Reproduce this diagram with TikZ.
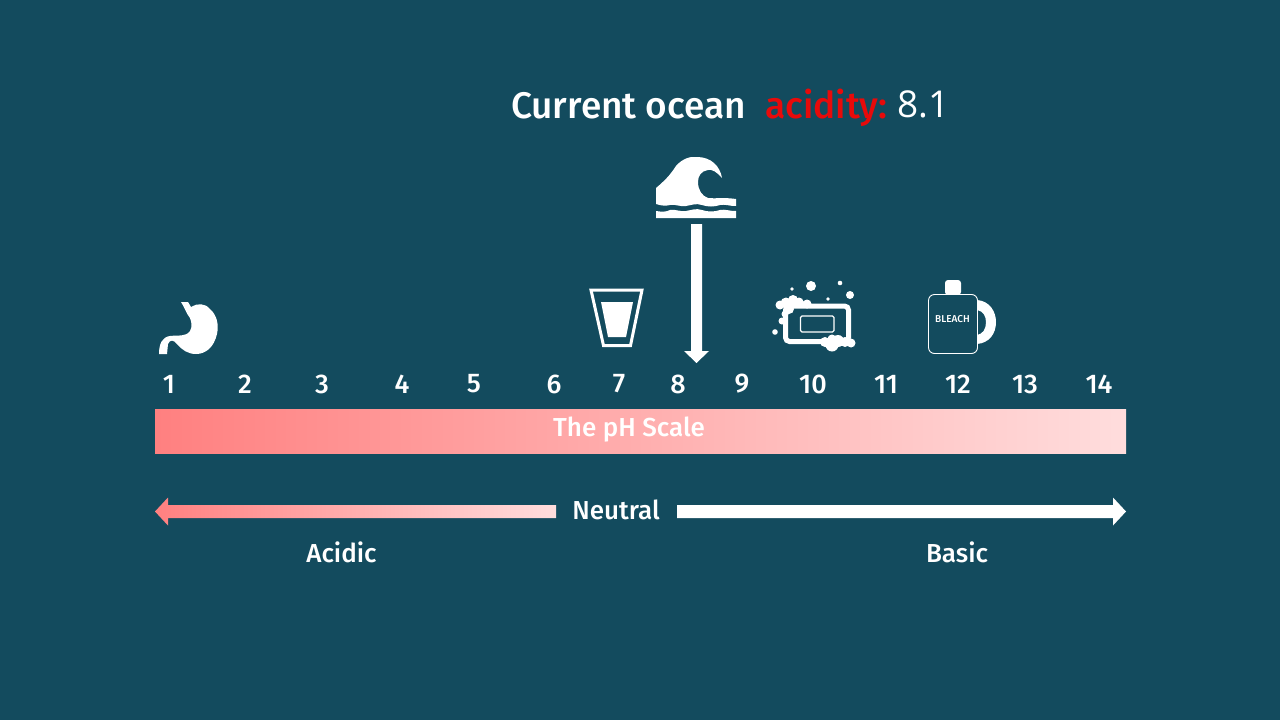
\documentclass[tikz,border=0pt]{standalone}
\usepackage{fontspec}
\setmainfont{Fira Sans Medium}
\newfontfamily\osans{Open Sans}
\definecolor{bgc}{HTML}{134B5E}
\definecolor{lo}{HTML}{FF8080}
\definecolor{hi}{HTML}{FFDDDD}
\definecolor{acid}{HTML}{E80A0A}
\tikzset{
  x=1pt,y=-1pt,
  lab/.style={text=white,inner sep=0pt,anchor=center},
  num/.style={lab,font=\fontsize{27}{27}\selectfont},
  word/.style={lab,font=\fontsize{26}{26}\selectfont},
  ink/.style={fill=white,draw=none},
  grad/.style={left color=lo,right color=hi,draw=none,shading angle=90},
}
\begin{document}
\begin{tikzpicture}
\useasboundingbox (0,0) rectangle (1280,720);
\fill[bgc] (0,0) rectangle (1280,720);
% title
\node[lab,anchor=base west,font=\fontsize{37}{37}\selectfont] (title) at (511,118) {Current ocean};
\node[lab,anchor=base west,text=acid,font=\fontsize{37}{37}\selectfont] (acidity) at (765,118) {acidity:};
\node[lab,anchor=base west,font=\osans\fontsize{37}{37}\selectfont] (val) at (897,117) {8.1};
% wave
\path[ink] (656,188) .. controls (668,178) and (672,172) .. (676,166)
  .. controls (682,159) and (690,156) .. (697,157)
  .. controls (711,157) and (720,166) .. (722,178)
  .. controls (717,172) and (712,169) .. (708,170)
  .. controls (701,171) and (698,176) .. (698,182)
  .. controls (698,190) and (702,196) .. (708,198)
  .. controls (716,199) and (722,197) .. (736,199)
  -- (736,206) .. controls (728,206) and (726,204) .. (720,205)
  .. controls (714,207) and (708,207) .. (702,205)
  .. controls (696,203) and (692,205) .. (686,206)
  .. controls (680,207) and (676,204) .. (670,205)
  .. controls (666,206) and (662,206) .. (656,204) -- cycle;
\path[ink] (656,211) .. controls (662,212) and (666,212) .. (670,210)
  .. controls (676,209) and (680,212) .. (686,211)
  .. controls (692,210) and (696,208) .. (702,210)
  .. controls (708,212) and (714,212) .. (720,210)
  .. controls (726,209) and (728,211) .. (736,211)
  -- (736,218) -- (656,218) -- cycle;
% pointer arrow
\path[ink] (691,224) -- (702,224) -- (702,351) -- (709,351) -- (696.5,363) -- (684,351) -- (691,351) -- cycle;
% stomach
\path[ink] (181,302) -- (188,302) -- (191,307) .. controls (197,303) and (205,303) .. (210,309)
  .. controls (217,315) and (219,325) .. (217,334)
  .. controls (214,347) and (206,354) .. (196,354)
  .. controls (188,354) and (182,350) .. (177,344)
  .. controls (174,340) and (170,339) .. (168,344)
  -- (167,354) -- (159,354)
  .. controls (159,344) and (162,337) .. (170,336)
  .. controls (178,335) and (186,337) .. (190,331)
  .. controls (193,326) and (191,321) .. (190,318)
  .. controls (186,313) and (185,308) .. (181,302) -- cycle;
% glass
\draw[white,line width=3pt,line join=miter] (591,290) -- (642,290) -- (630.5,345.5) -- (603.5,345.5) -- cycle;
\path[ink] (601,302) -- (633,302) -- (626,337) -- (608,337) -- cycle;
% soap
\draw[white,line width=5pt,rounded corners=4pt] (785.5,306) rectangle (848.5,341.5);
\draw[white,line width=1.3pt,rounded corners=1.5pt] (800.5,316) rectangle (834,332);
\path[ink] (811,286) circle[radius=5] (840,283) circle[radius=2.3] (850,295) circle[radius=4]
  (828,299) circle[radius=1.8] (792,289) circle[radius=1.8] (775,332) circle[radius=2.8]
  (780,305) circle[radius=4.5] (786,303) circle[radius=5.5] (793,300) circle[radius=5] (799,302) circle[radius=4.5]
  (807,304) circle[radius=4.5] (785,314) circle[radius=3.5] (782,321) circle[radius=3.5] (789,309) circle[radius=5]
  (825,342) circle[radius=5] (832,345) circle[radius=6.5] (838,341) circle[radius=6] (845,342) circle[radius=5] (851,343) circle[radius=4.5] (832,339) circle[radius=4.5];
% bleach
\path[ink,even odd rule] (977,300) .. controls (990,301) and (996,312) .. (996,322)
  .. controls (996,334) and (989,343) .. (977,344) -- (977,335)
  .. controls (983,334) and (986,329) .. (986,322)
  .. controls (986,316) and (983,311) .. (977,310) -- cycle;
\path[ink,rounded corners=3pt] (945,295) -- (945,280) -- (961,280) -- (961,295) -- cycle;
\draw[white,fill=bgc,line width=0.9pt,rounded corners=6pt] (928.5,294.5) rectangle (977.5,353.5);
\node[lab,font=\fontsize{10}{10}\selectfont] (bleach) at (952.5,319) {BLEACH};
% numbers
\foreach \t/\xx in {1/169,2/245,3/322,4/402,5/474,6/554,7/619,8/678,9/742,10/813,11/886,12/958,13/1025,14/1099}
  \node[num] (n\t) at (\xx,384) {\t};
% bar
\path[grad] (155,409) rectangle (1126,453);
\node[word] (scale) at (629,430) {The pH Scale};
% scale arrows
\path[grad] (155,511.5) -- (168,497.5) -- (168,505) -- (556,505) -- (556,518) -- (168,518) -- (168,525.5) -- cycle;
\path[ink] (677,505) -- (1113,505) -- (1113,497.5) -- (1126,511.5) -- (1113,525.5) -- (1113,518) -- (677,518) -- cycle;
\node[word] (neutral) at (616,510) {Neutral};
\node[word] (acidic) at (341.5,552) {Acidic};
\node[word] (basic) at (957,552) {Basic};
\end{tikzpicture}
\end{document}
